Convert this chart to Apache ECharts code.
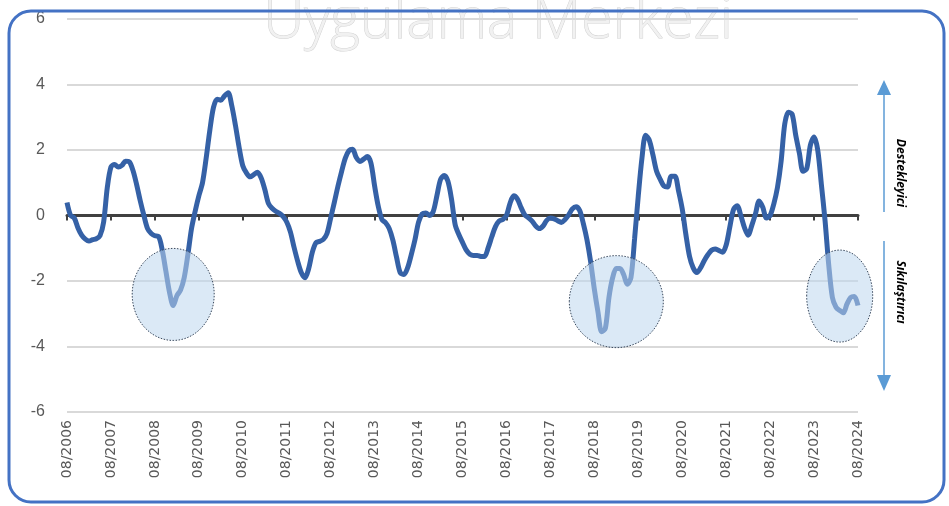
<!DOCTYPE html>
<html>
<head>
  <meta charset="utf-8" />
  <title>Chart</title>
  <script src="https://cdn.jsdelivr.net/npm/echarts@6.0.0/dist/echarts.min.js"></script>
</head>
<style>
  body { margin: 0; padding: 0; overflow: hidden; background: #fff; }
</style>
<body>
  <div id="main" style="width: 949px;height: 506px;"></div>
  <script type="text/javascript">
    // first month of the series and y-axis ticks
    const startYear = 2006;
    const startMonth = 8;
    const yTicks = [-6, -4, -2, 0, 2, 4, 6];

    // monthly index values, 08/2006 .. 08/2024
    const values = [
      0.4, 0.0, -0.08, -0.38, -0.6, -0.72, -0.78, -0.74, -0.71, -0.62, -0.2, 0.85,
      1.48, 1.56, 1.48, 1.53, 1.66, 1.64, 1.38, 0.95, 0.45, 0.0, -0.4, -0.55,
      -0.62, -0.64, -1.05, -1.7, -2.35, -2.75, -2.45, -2.28, -1.9, -1.2, -0.4, 0.13,
      0.6, 1.0, 1.75, 2.6, 3.3, 3.55, 3.52, 3.65, 3.75, 3.35, 2.75, 2.08,
      1.52, 1.3, 1.18, 1.25, 1.32, 1.15, 0.8, 0.37, 0.22, 0.13, 0.07, -0.03,
      -0.2, -0.5, -0.97, -1.4, -1.75, -1.9, -1.62, -1.12, -0.83, -0.79, -0.73, -0.55,
      -0.08, 0.4, 0.9, 1.35, 1.75, 1.98, 2.02, 1.77, 1.65, 1.72, 1.8, 1.6,
      0.9, 0.28, -0.12, -0.22, -0.4, -0.76, -1.28, -1.75, -1.8, -1.6, -1.2, -0.75,
      -0.2, 0.05, 0.08, 0.0, 0.12, 0.6, 1.1, 1.22, 1.05, 0.5, -0.28, -0.58,
      -0.82, -1.05, -1.18, -1.22, -1.22, -1.25, -1.25, -0.99, -0.65, -0.34, -0.17, -0.12,
      0.0, 0.38, 0.6, 0.5, 0.24, 0.02, -0.07, -0.17, -0.32, -0.4, -0.32, -0.15,
      -0.08, -0.1, -0.16, -0.21, -0.12, 0.02, 0.2, 0.27, 0.15, -0.25, -0.75, -1.42,
      -2.25, -2.95, -3.55, -3.45, -2.5, -1.9, -1.62, -1.62, -1.8, -2.1, -1.9, -0.7,
      0.6, 1.75, 2.45, 2.3, 1.85, 1.35, 1.1, 0.9, 0.87, 1.2, 1.2, 0.75,
      0.2, -0.58, -1.25, -1.6, -1.74, -1.6, -1.38, -1.2, -1.06, -1.02, -1.07, -1.12,
      -0.9, -0.35, 0.18, 0.3, 0.0, -0.37, -0.6, -0.3, 0.05, 0.44, 0.25, -0.08,
      0.0, 0.35, 0.85, 1.65, 2.8, 3.15, 3.1, 2.45, 1.9, 1.35, 1.43, 2.15,
      2.4, 2.0, 0.95, -0.15, -1.5, -2.5, -2.8, -2.9, -2.97, -2.7, -2.5, -2.47,
      -2.75
    ];

    // highlighted tightening episodes: [month index, value]
    const episodes = [[29, -2.41], [150, -2.63], [211, -2.46]];
    const episodeRadius = [[41, 46], [47, 46], [33, 46]];

    const months = values.map((v, i) => {
      const m = (startMonth - 1 + i) % 12 + 1;
      const y = startYear + Math.floor((startMonth - 1 + i) / 12);
      return (m < 10 ? '0' + m : '' + m) + '/' + y;
    });

    const chart = echarts.init(document.getElementById('main'));

    const option = {
      backgroundColor: '#fff',
      animation: false,
      grid: { left: 67, right: 91, top: 19, bottom: 94 },
      xAxis: [
        {
          type: 'category',
          data: months,
          boundaryGap: false,
          position: 'bottom',
          axisLine: { show: false, onZero: false },
          axisTick: { show: false },
          axisLabel: {
            interval: 11,
            rotate: 90,
            margin: 8,
            color: '#595959',
            fontSize: 14,
            fontFamily: 'DejaVu Sans'
          }
        },
        {
          type: 'category',
          data: months,
          boundaryGap: false,
          position: 'bottom',
          axisLine: { onZero: true, lineStyle: { color: '#404040', width: 3 } },
          axisTick: { interval: 11, length: 5, lineStyle: { color: '#404040', width: 2 } },
          axisLabel: { show: false }
        }
      ],
      yAxis: {
        type: 'value',
        min: -6,
        max: 6,
        interval: 2,
        axisLine: { show: false },
        axisTick: { show: false },
        axisLabel: {
          color: '#595959',
          fontSize: 16,
          margin: 22,
          fontFamily: 'Liberation Sans Narrow, Liberation Sans',
          formatter: v => yTicks.indexOf(v) >= 0 ? String(v) : ''
        },
        splitLine: { lineStyle: { color: '#d9d9d9', width: 2 } }
      },
      series: [
        {
          type: 'line',
          data: values,
          showSymbol: false,
          smooth: 0.3,
          lineStyle: { color: '#3561a6', width: 5 },
          z: 3
        }
      ],
      graphic: [
        {
          id: 'watermark',
          type: 'text',
          z: -10,
          x: 498, y: 50,
          style: {
            text: 'Uygulama Merkezi',
            font: '300 57px "Open Sans"',
            fill: '#f1f1f1',
            stroke: '#d2d2d2',
            lineWidth: 1,
            align: 'center',
            verticalAlign: 'bottom'
          }
        },
        {
          id: 'frame',
          type: 'rect',
          z: 200,
          shape: { x: 9, y: 11, width: 935, height: 491, r: 22 },
          style: { fill: null, stroke: '#4472c4', lineWidth: 3 }
        },
        {
          id: 'upLine', type: 'line', z: 50,
          shape: { x1: 884, y1: 95, x2: 884, y2: 212 },
          style: { stroke: '#5b9bd5', lineWidth: 1.5 }
        },
        {
          id: 'upHead', type: 'polygon', z: 50,
          shape: { points: [[884, 80], [877, 95], [891, 95]] },
          style: { fill: '#5b9bd5' }
        },
        {
          id: 'downLine', type: 'line', z: 50,
          shape: { x1: 884, y1: 241, x2: 884, y2: 376 },
          style: { stroke: '#5b9bd5', lineWidth: 1.5 }
        },
        {
          id: 'downHead', type: 'polygon', z: 50,
          shape: { points: [[884, 391], [877, 375], [891, 375]] },
          style: { fill: '#5b9bd5' }
        },
        {
          id: 'supportText', type: 'text', z: 50,
          x: 900, y: 173, rotation: -Math.PI / 2,
          style: {
            text: 'Destekleyici',
            font: 'italic bold 12px "Open Sans"',
            fill: '#000',
            align: 'center',
            verticalAlign: 'middle'
          }
        },
        {
          id: 'tightText', type: 'text', z: 50,
          x: 900, y: 292, rotation: -Math.PI / 2,
          style: {
            text: 'Sıkılaştırıcı',
            font: 'italic bold 12px "Open Sans"',
            fill: '#000',
            align: 'center',
            verticalAlign: 'middle'
          }
        }
      ]
    };

    chart.setOption(option);

    // circles around the tightening episodes, placed through the axes
    const circles = episodes.map((e, k) => {
      const p = chart.convertToPixel({ xAxisIndex: 0, yAxisIndex: 0 }, e);
      return {
        id: 'episode' + k,
        type: 'ellipse',
        z: 100,
        shape: { cx: p[0], cy: p[1], rx: episodeRadius[k][0], ry: episodeRadius[k][1] },
        style: {
          fill: 'rgba(189,215,238,0.55)',
          stroke: '#3b4a5e',
          lineWidth: 1,
          lineDash: [1.5, 1.5]
        }
      };
    });
    chart.setOption({ graphic: circles });
  </script>
</body>
</html>
